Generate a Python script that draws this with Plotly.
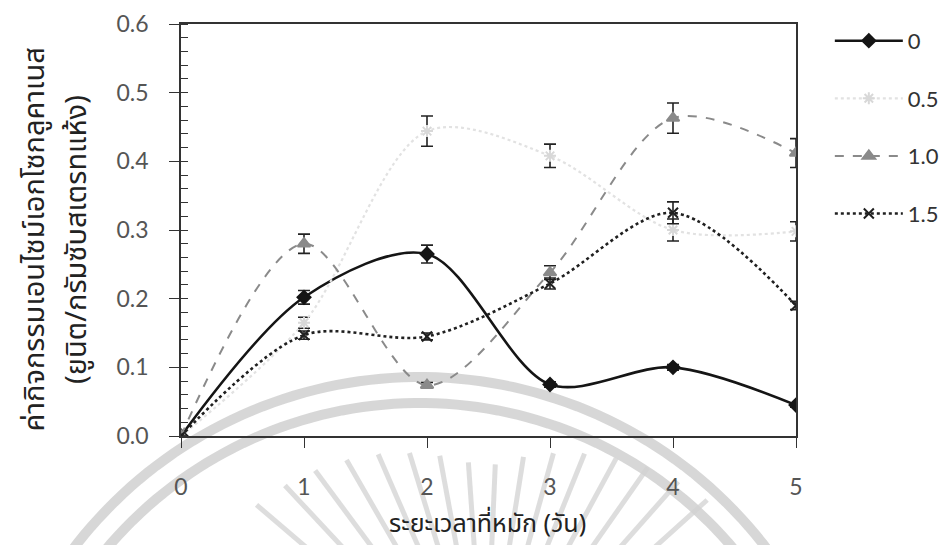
import numpy as np
import plotly.graph_objects as go

# Fermentation time (days)
days = [0, 1, 2, 3, 4, 5]

# Exoglucanase activity (U/g dry substrate) for each treatment level
labels = ["0", "0.5", "1.0", "1.5"]
act_0 = [0.0, 0.202, 0.265, 0.075, 0.100, 0.045]
act_05 = [0.0, 0.165, 0.444, 0.408, 0.300, 0.298]
act_10 = [0.0, 0.280, 0.074, 0.238, 0.463, 0.412]
act_15 = [0.0, 0.147, 0.145, 0.222, 0.325, 0.190]

# Standard deviations
sd_0 = [0.0, 0.010, 0.013, 0.004, 0.004, 0.003]
sd_05 = [0.0, 0.008, 0.022, 0.017, 0.016, 0.014]
sd_10 = [0.0, 0.014, 0.004, 0.010, 0.022, 0.021]
sd_15 = [0.0, 0.006, 0.005, 0.008, 0.016, 0.006]

y_ticks = [0.0, 0.1, 0.2, 0.3, 0.4, 0.5, 0.6]
x_ticks = [0, 1, 2, 3, 4, 5]

y_title_1 = "ค่ากิจกรรมเอนไซม์เอกโซกลูคาเนส"
y_title_2 = "(ยูนิต/กรัมซับสเตรทแห้ง)"
x_title = "ระยะเวลาที่หมัก (วัน)"

THAI_FONT = "Tahoma, 'Noto Sans Thai', 'Loma', 'Garuda', 'DejaVu Sans', sans-serif"
NUM_FONT = "Lato, 'Open Sans', 'DejaVu Sans', sans-serif"

W, H = 944, 545
ML, MR, MT, MB = 181, 148, 24, 109

styles = [
    dict(color="#151515", dash="solid", width=2.6, symbol="diamond", msize=10, mcolor="#151515"),
    dict(color="#e2e2e2", dash="dot", width=2.2, symbol="asterisk-open", msize=10, mcolor="#d8d8d8"),
    dict(color="#8a8a8a", dash="dash", width=2.0, symbol="triangle-up", msize=11, mcolor="#8a8a8a"),
    dict(color="#202020", dash="dot", width=2.6, symbol="x-thin-open", msize=10, mcolor="#202020"),
]

fig = go.Figure()
for name, vals, sds, st in zip(labels, [act_0, act_05, act_10, act_15],
                               [sd_0, sd_05, sd_10, sd_15], styles):
    fig.add_trace(go.Scatter(
        x=days, y=vals, name=name, legendgroup=name,
        mode="lines+markers",
        line=dict(color=st["color"], dash=st["dash"], width=st["width"],
                  shape="spline", smoothing=0.9),
        marker=dict(symbol=st["symbol"], size=st["msize"], color=st["mcolor"],
                    line=dict(color=st["mcolor"], width=2)),
        error_y=dict(type="data", array=sds, visible=True, color="#222222",
                     thickness=1.6, width=6),
    ))


# faint seal drawn behind everything (pixel geometry -> paper coords)
def to_paper(px, py):
    return (px - ML) / (W - ML - MR), (H - MB - py) / (H - MT - MB)


def arc_path(cx, cy, r, a0, a1, n=90):
    t = np.radians(np.linspace(a0, a1, n))
    pts = [to_paper(cx + r * np.cos(a), cy - r * np.sin(a)) for a in t]
    return "M" + " L".join(f"{x:.4f},{y:.4f}" for x, y in pts)


ring_col = "rgba(205,205,205,0.8)"
ray_col = "rgba(210,210,210,0.75)"
shapes = []
# double ring
for r in (436, 410):
    shapes.append(dict(type="path", xref="paper", yref="paper", layer="below",
                       path=arc_path(420, 813, r, 25, 155),
                       line=dict(color=ring_col, width=10)))
# sunburst rays
for ang in np.arange(42, 140, 6.5):
    a = np.radians(ang)
    r_top = 232 + 90 * abs(np.cos(a))
    x0, y0 = to_paper(485 + 120 * np.cos(a), 700 - 120 * np.sin(a))
    x1, y1 = to_paper(485 + r_top * np.cos(a), 700 - r_top * np.sin(a))
    shapes.append(dict(type="line", xref="paper", yref="paper", layer="below",
                       x0=x0, y0=y0, x1=x1, y1=y1,
                       line=dict(color=ray_col, width=5)))

fig.update_layout(
    width=W, height=H,
    margin=dict(l=ML, r=MR, t=MT, b=MB, autoexpand=False),
    paper_bgcolor="white", plot_bgcolor="rgba(0,0,0,0)",
    shapes=shapes,
    showlegend=True,
    legend=dict(x=1.055, y=1.01, xanchor="left", yanchor="top",
                font=dict(family=NUM_FONT, size=22, color="#333333"),
                tracegroupgap=26, itemwidth=68, bgcolor="rgba(0,0,0,0)"),
    xaxis=dict(range=[0, 5], tickvals=x_ticks, ticks="outside", ticklen=10,
               tickwidth=1.3, tickcolor="#333", showline=True, linecolor="#333",
               linewidth=1.5, mirror=True, showgrid=False, zeroline=False,
               ticklabelstandoff=20,
               tickfont=dict(family=NUM_FONT, size=23, color="#555555")),
    yaxis=dict(range=[0, 0.6], tickvals=y_ticks, tickformat=".1f",
               ticks="outside", ticklen=10, tickwidth=1.3, tickcolor="#333",
               showline=True, linecolor="#333", linewidth=1.5, mirror=True,
               showgrid=False, zeroline=False, ticklabelstandoff=16,
               minor=dict(dtick=0.02, ticks="inside", ticklen=7,
                          tickcolor="#333", tickwidth=1.2, showgrid=False),
               tickfont=dict(family=NUM_FONT, size=23, color="#555555")),
    annotations=[
        dict(text=y_title_1, xref="paper", yref="paper", x=-0.238, y=0.476,
             textangle=-90, showarrow=False, xanchor="center", yanchor="middle",
             font=dict(family=THAI_FONT, size=29, color="#222")),
        dict(text=y_title_2, xref="paper", yref="paper", x=-0.169, y=0.476,
             textangle=-90, showarrow=False, xanchor="center", yanchor="middle",
             font=dict(family=THAI_FONT, size=29, color="#222")),
        dict(text=x_title, xref="paper", yref="paper", x=0.499, y=-0.2136,
             showarrow=False, xanchor="center", yanchor="middle",
             font=dict(family=THAI_FONT, size=25, color="#222")),
    ],
)

fig.write_html("out.html")
